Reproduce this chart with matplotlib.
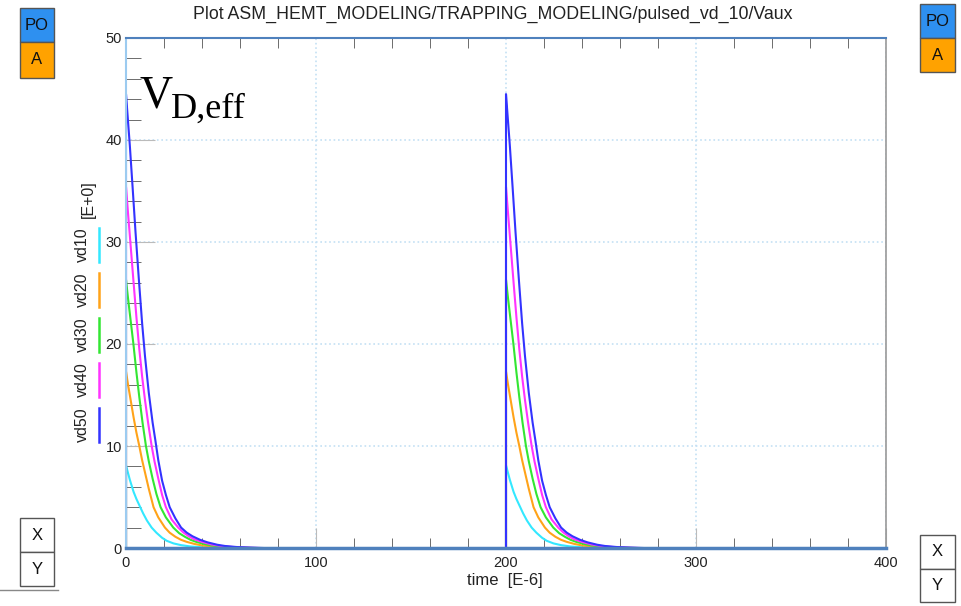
import matplotlib.pyplot as plt
from matplotlib.patches import Rectangle
from matplotlib.lines import Line2D
from matplotlib.ticker import MultipleLocator

plt.rcParams['font.family'] = ['Liberation Sans', 'DejaVu Sans']

W, H = 962, 606
PT = 0.72  # points per pixel at dpi 100

# pulse start times (us)
pulse_starts = [0, 200]

# decay of Vaux after each drain pulse, one list per drain voltage step
series_names = ["vd10", "vd20", "vd30", "vd40", "vd50"]
series_colors = ["#33E8FF", "#FFA319", "#33E633", "#FF33FF", "#3333FF"]

t_vd10 = [0, 0, 1, 2, 3, 4, 5.5, 7.5, 9, 11, 13.5, 16, 19, 21.5, 25, 29,
          34, 40, 48, 60]
v_vd10 = [0, 8.1, 7.4, 6.7, 6.1, 5.5, 4.8, 4.0, 3.4, 2.7, 2.0, 1.5, 1.0,
          0.7, 0.45, 0.28, 0.15, 0.07, 0.02, 0]

t_vd20 = [0, 0, 1, 2, 3, 4, 5.5, 7, 8.5, 10, 12, 14.5, 17, 20.5, 23, 26,
          29, 32, 36, 40, 45, 50, 57, 65]
v_vd20 = [0, 17.3, 16.1, 15.0, 13.9, 12.8, 11.3, 10.0, 8.6, 7.4, 5.8, 4.0,
          3.0, 2.0, 1.5, 1.1, 0.8, 0.6, 0.4, 0.25, 0.15, 0.08, 0.03, 0]

t_vd30 = [0, 0, 1, 2, 3.9, 5.5, 7, 8.7, 10.5, 12, 14, 16, 18.2, 21, 24.9,
          28, 31, 34, 37, 41, 45, 50, 55, 61, 68]
v_vd30 = [0, 26.3, 24.6, 23.0, 20.0, 17.2, 14.8, 12.3, 10.0, 8.5, 6.8, 5.3,
          4.0, 3.0, 2.0, 1.45, 1.1, 0.8, 0.6, 0.4, 0.25, 0.14, 0.08, 0.03, 0]

t_vd40 = [0, 0, 1, 2.5, 4, 5.5, 7, 8.5, 10, 11.7, 13.5, 15, 17, 19, 21, 24,
          27.5, 30, 33, 36, 40, 45, 50, 56, 63, 70]
v_vd40 = [0, 35.4, 33.0, 29.5, 26.0, 22.6, 19.5, 16.8, 14.5, 12.2, 10.0,
          8.5, 6.8, 5.2, 4.0, 2.8, 2.0, 1.55, 1.15, 0.85, 0.6, 0.35, 0.2,
          0.1, 0.04, 0]

t_vd50 = [0, 0, 1, 2, 3.5, 5, 6.7, 8.5, 10, 12, 14, 15.5, 17, 19, 21, 23,
          26, 29, 32, 35, 39, 43, 48, 52, 58, 65, 72]
v_vd50 = [0, 44.5, 42.0, 39.5, 35.3, 31.0, 26.5, 22.0, 18.8, 15.2, 12.3,
          10.5, 8.6, 6.6, 5.2, 4.0, 2.9, 2.0, 1.5, 1.15, 0.8, 0.55, 0.32,
          0.2, 0.1, 0.04, 0]

series_t = [t_vd10, t_vd20, t_vd30, t_vd40, t_vd50]
series_v = [v_vd10, v_vd20, v_vd30, v_vd40, v_vd50]

x_ticks = [0, 100, 200, 300, 400]
y_ticks = [0, 10, 20, 30, 40, 50]


def px_box(fig, x, y, w, h, face, label):
    fig.add_artist(Rectangle((x / W, 1 - (y + h) / H), w / W, h / H,
                             transform=fig.transFigure, facecolor=face,
                             edgecolor="#555555", linewidth=1))
    fig.text((x + w / 2) / W, 1 - (y + h / 2) / H, label, ha="center",
             va="center", fontsize=12, color="#111111")


def main():
    fig = plt.figure(figsize=(W / 100, H / 100), dpi=100)
    ax = fig.add_axes([126 / W, 58 / H, 760 / W, 510 / H])

    for t, v, c in zip(series_t, series_v, series_colors):
        for t0 in pulse_starts:
            ax.plot([t0 + ti for ti in t], v, color=c, linewidth=1.5,
                    solid_joinstyle="round")

    ax.set_xlim(0, 400)
    ax.set_ylim(0, 50)
    ax.set_xticks(x_ticks)
    ax.set_yticks(y_ticks)
    ax.xaxis.set_minor_locator(MultipleLocator(20))
    ax.yaxis.set_minor_locator(MultipleLocator(2))
    ax.grid(True, which="major", color="#C4E0F4", linestyle=":", linewidth=1.2)

    ax.tick_params(axis="x", which="major", direction="in", length=20 * PT,
                   color="#BBBBBB", labelsize=10.5, labelcolor="#222222",
                   pad=6, top=False)
    ax.tick_params(axis="x", which="minor", direction="in", length=10 * PT,
                   color="#555555", top=True, bottom=True)
    ax.tick_params(axis="y", which="major", direction="in", length=29 * PT,
                   color="#BBBBBB", labelsize=10.5, labelcolor="#222222",
                   pad=3, right=False)
    ax.tick_params(axis="y", which="minor", direction="in", length=15 * PT,
                   color="#555555", right=False)

    ax.spines["top"].set_color("#4F81BD")
    ax.spines["top"].set_linewidth(1.5)
    ax.spines["bottom"].set_color("#4F81BD")
    ax.spines["bottom"].set_linewidth(2.5)
    ax.spines["left"].set_color("#9CCBF0")
    ax.spines["left"].set_linewidth(1.5)
    ax.spines["right"].set_color("#999999")
    ax.spines["right"].set_linewidth(1.2)

    fig.text(493 / W, 1 - 14 / H,
             "Plot ASM_HEMT_MODELING/TRAPPING_MODELING/pulsed_vd_10/Vaux",
             ha="center", va="center", fontsize=12.8, color="#222222")
    fig.text(505 / W, 1 - 581 / H, "time  [E-6]", ha="center", va="center",
             fontsize=12, color="#222222")

    # vertical legend on the left
    fig.text(88 / W, 1 - 199 / H, "[E+0]", rotation=90, ha="center",
             va="center", fontsize=11.5, color="#222222")
    for i, (name, c) in enumerate(zip(series_names, series_colors)):
        yc = 245 + 45 * i
        fig.text(82 / W, 1 - yc / H, name, rotation=90, ha="center",
                 va="center", fontsize=11.5, color="#222222")
        fig.add_artist(Line2D([99 / W, 99 / W],
                              [1 - (yc - 17) / H, 1 - (yc + 17) / H],
                              transform=fig.transFigure, color=c,
                              linewidth=1.8))

    # V_D,eff annotation
    fig.text(140 / W, 1 - 108 / H, "V", family="Liberation Serif",
             fontsize=33, va="baseline", ha="left", color="#000000")
    fig.text(171 / W, 1 - 118 / H, "D,eff", family="Liberation Serif",
             fontsize=26, va="baseline", ha="left", color="#000000")

    # side buttons
    px_box(fig, 20, 8, 34, 34, "#2E90F0", "PO")
    px_box(fig, 20, 42, 34, 36, "#FFA200", "A")
    px_box(fig, 920, 4, 35, 34, "#2E90F0", "PO")
    px_box(fig, 920, 38, 35, 34, "#FFA200", "A")
    px_box(fig, 20, 518, 34, 34, "white", "X")
    px_box(fig, 20, 552, 34, 34, "white", "Y")
    px_box(fig, 920, 535, 35, 34, "white", "X")
    px_box(fig, 920, 569, 35, 33, "white", "Y")
    fig.add_artist(Line2D([0, 58 / W], [1 - 590 / H, 1 - 590 / H],
                          transform=fig.transFigure, color="#888888",
                          linewidth=1))

    fig.savefig("out.png", dpi=100)


if __name__ == "__main__":
    main()
